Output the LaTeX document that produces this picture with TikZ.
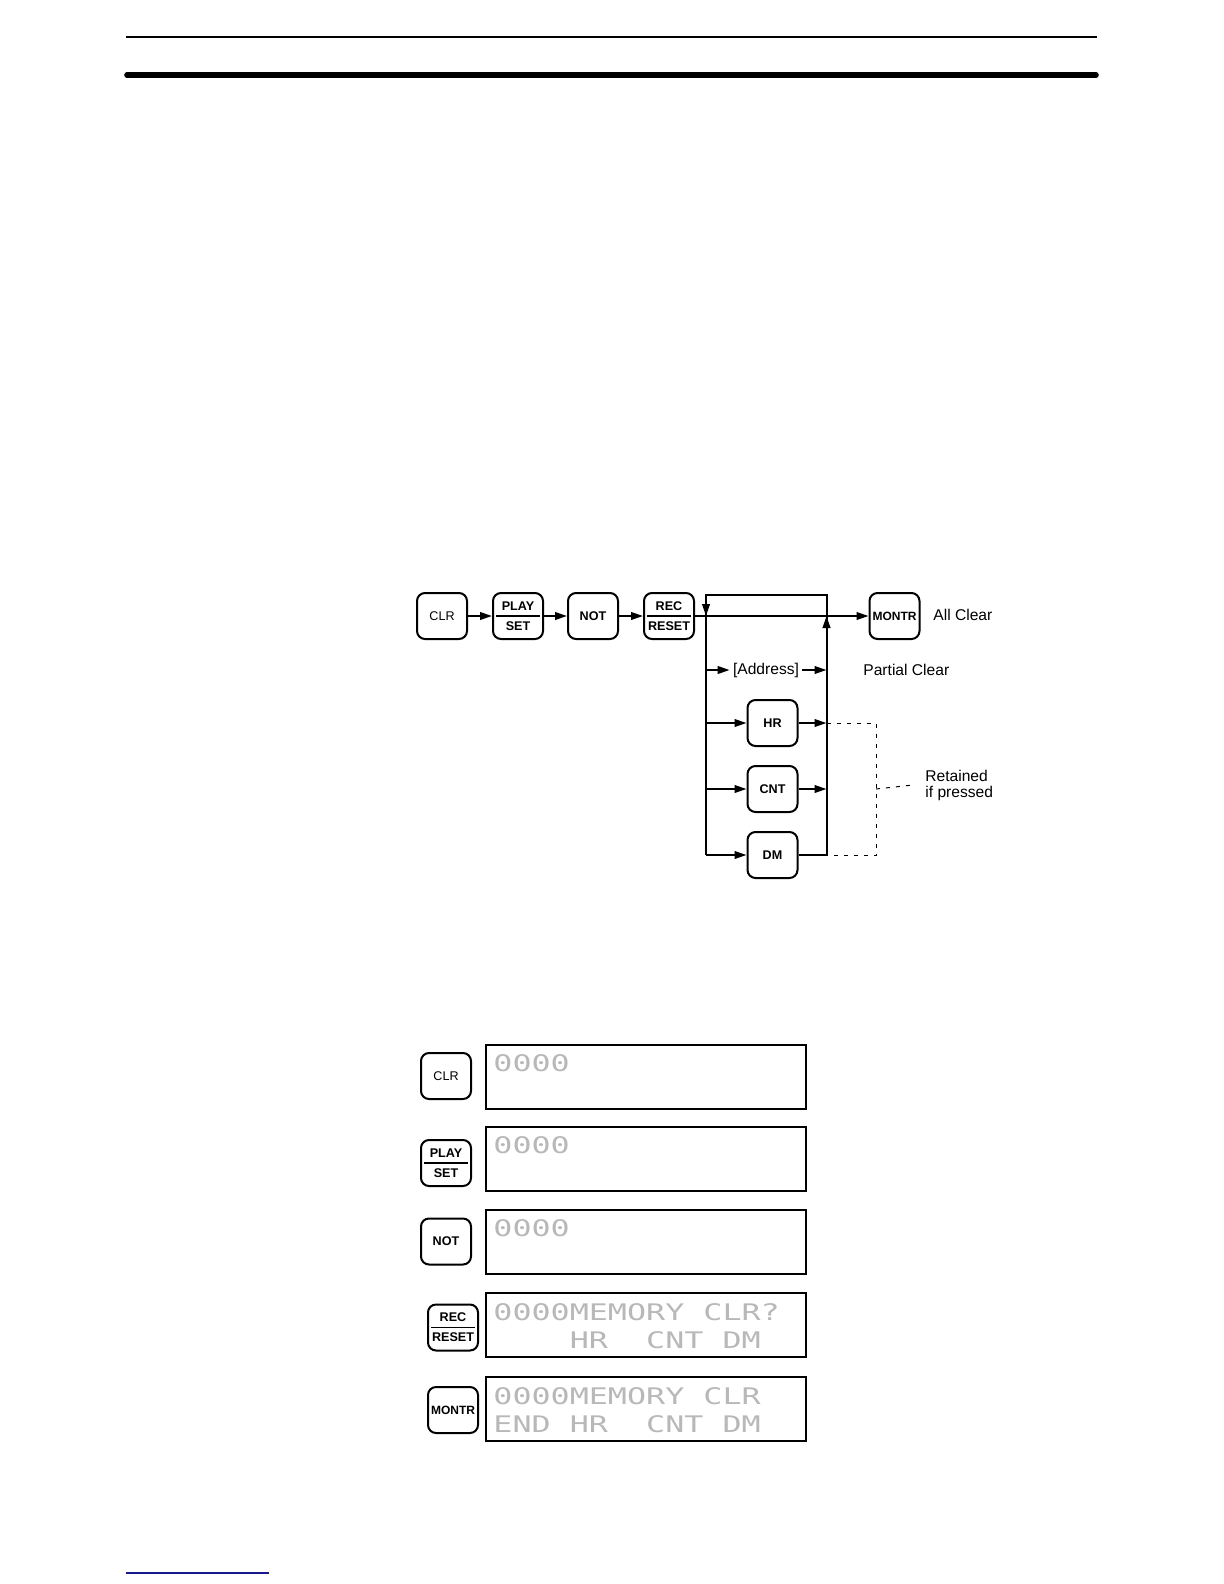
\documentclass[tikz,border=0pt]{standalone}
\usepackage{fontspec}
\setmainfont{Liberation Sans}
\newfontfamily\lcdfont{DejaVu Sans Mono}
\usepackage{graphicx}
\usetikzlibrary{arrows.meta}
\definecolor{linkblue}{RGB}{25,25,140}

\begin{document}
\begin{tikzpicture}[x=0.5pt,y=-0.5pt,
  keybox/.style={draw,rounded corners=4pt,line width=1pt,minimum width=25pt,minimum height=23pt,inner sep=0pt,align=center,font=\fontsize{6.3}{10}\selectfont\bfseries},
  plainkey/.style={keybox,font=\fontsize{6.3}{10}\selectfont},
  lcdbox/.style={draw,line width=0.7pt,minimum width=160pt,minimum height=32pt,inner sep=0pt},
  lcd/.style={anchor=base west,inner sep=0pt,text=black!28,font=\lcdfont\fontsize{15.86}{16}\selectfont},
  flow/.style={line width=1pt},
  arr/.style={flow,-{Triangle[length=6pt,width=3.8pt]}},
  note/.style={font=\fontsize{7.8}{8}\selectfont,inner sep=0pt,anchor=west,align=left},
  retain/.style={line width=0.5pt,dash pattern=on 2pt off 3pt}]
\newcommand{\lcdrow}[1]{\scalebox{1}[0.72]{#1}}
\useasboundingbox (0,0) rectangle (1224,1584);

% page rules
\draw[line width=1pt] (126,37.5) -- (1097,37.5);
\draw[line width=2.8pt,line cap=round] (127,75) -- (1096,75);
\draw[linkblue,line width=0.8pt] (126,1573) -- (269,1573);

% key sequence
\node[plainkey] (clr) at (442,616) {CLR};
\node[keybox] (play) at (518,616) {PLAY\\SET};
\node[keybox] (not) at (593,616) {NOT};
\node[keybox] (rec) at (669,616) {REC\\RESET};
\node[keybox,font=\fontsize{6}{10}\selectfont\bfseries] (montr) at (894.5,616) {MONTR};
\draw[line width=0.8pt] ([xshift=2pt]play.west) -- ([xshift=-2pt]play.east);
\draw[line width=0.8pt] ([xshift=2pt]rec.west) -- ([xshift=-2pt]rec.east);
\draw[arr] (clr) -- (play);
\draw[arr] (play) -- (not);
\draw[arr] (not) -- (rec);
\draw[arr] (rec) -- (montr);
\node[note] (allclr) at (933,614.5) {All Clear};

% loop
\coordinate (lt) at (706,595);
\coordinate (rt) at (826.5,595);
\coordinate (lm) at (706,616);
\coordinate (rm) at (826.5,616);
\coordinate (lb) at (706,855);
\coordinate (rb) at (826.5,855);
\draw[flow] (lb) -- (lt) -- (rt) -- (rb);
\draw[arr] (lt) -- (lm);
\draw[arr] ([yshift=-12pt]rm) -- (rm);

\coordinate (la) at (706,670);
\coordinate (ra) at (826.5,670);
\node[note,anchor=center,inner sep=1.5pt] (addr) at (766,670) {[Address]};
\draw[arr] (la) -- (addr);
\draw[arr] (addr) -- (ra);
\node[note] (partclr) at (863,670) {Partial Clear};

\node[keybox] (hr) at (772.5,723) {HR};
\node[keybox] (cnt) at (772.5,789) {CNT};
\node[keybox] (dm) at (772.5,855) {DM};
\coordinate (lhr) at (706,723);
\coordinate (rhr) at (826.5,723);
\coordinate (lcnt) at (706,789);
\coordinate (rcnt) at (826.5,789);
\draw[arr] (lhr) -- (hr);
\draw[arr] (hr) -- (rhr);
\draw[arr] (lcnt) -- (cnt);
\draw[arr] (cnt) -- (rcnt);
\draw[arr] (lb) -- (dm);
\draw[flow] (dm) -- (rb);

% retained bracket
\coordinate (dt) at (876,723);
\coordinate (db) at (876,855);
\coordinate (dc) at (876,789);
\node[note] (retain) at (925,785) {Retained\\if pressed};
\draw[retain] (rhr) -- (dt) -- (db) -- (rb);
\draw[retain] (dc) -- ([xshift=-6pt]retain.west);

% key and display sequence
\node[plainkey] (clrb) at (446,1076) {CLR};
\node[keybox] (playb) at (446,1163) {PLAY\\SET};
\node[keybox] (notb) at (446,1241.5) {NOT};
\node[keybox] (recb) at (453,1327.5) {REC\\RESET};
\node[keybox,font=\fontsize{6}{10}\selectfont\bfseries] (montrb) at (453,1410) {MONTR};
\draw[line width=0.8pt] ([xshift=2pt]playb.west) -- ([xshift=-2pt]playb.east);
\draw[line width=0.8pt] ([xshift=2pt]recb.west) -- ([xshift=-2pt]recb.east);

\node[lcdbox] (lcda) at (646,1077) {};
\node[lcdbox] (lcdb) at (646,1159) {};
\node[lcdbox] (lcdc) at (646,1242) {};
\node[lcdbox] (lcdd) at (646,1325) {};
\node[lcdbox] (lcde) at (646,1409) {};

\node[lcd] (lcdaa) at (493,1071) {\lcdrow{0000}};
\node[lcd] (lcdba) at (493,1153) {\lcdrow{0000}};
\node[lcd] (lcdca) at (493,1236) {\lcdrow{0000}};
\node[lcd] (lcdda) at (493,1320) {\lcdrow{0000MEMORY~CLR?}};
\node[lcd] (lcddb) at (493,1348) {\lcdrow{~~~~HR~~CNT~DM}};
\node[lcd] (lcdea) at (493,1404) {\lcdrow{0000MEMORY~CLR}};
\node[lcd] (lcdeb) at (493,1432) {\lcdrow{END~HR~~CNT~DM}};
\end{tikzpicture}
\end{document}
